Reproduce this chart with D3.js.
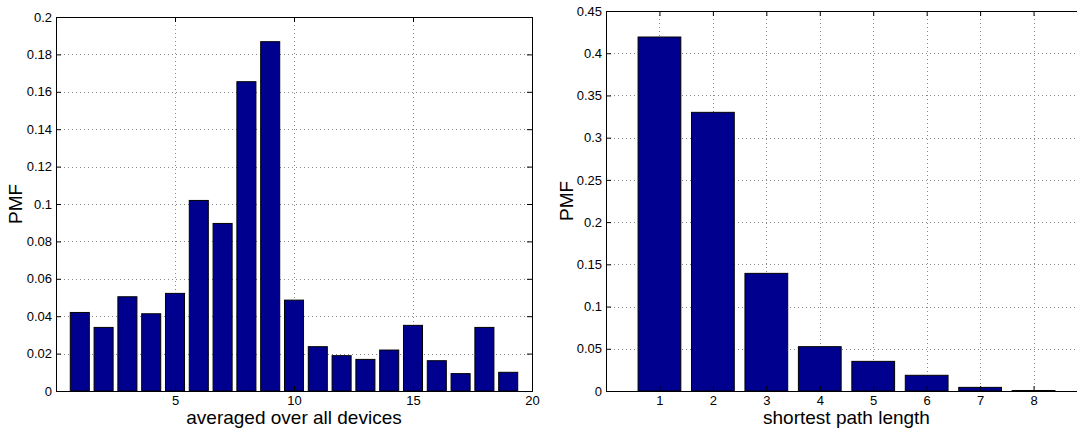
<!DOCTYPE html>
<html>
<head>
<meta charset="utf-8">
<script src="https://cdn.jsdelivr.net/npm/d3@7"></script>
<style>
  html, body { margin: 0; padding: 0; background: #fff; }
  svg { display: block; font-family: "Liberation Sans", Arial, sans-serif; }
</style>
</head>
<body>
<svg id="chart" width="1077" height="431"></svg>
<script>
// ---- Data ----
const leftCategories = [1,2,3,4,5,6,7,8,9,10,11,12,13,14,15,16,17,18,19];
const leftValues = [0.0420,0.0340,0.0504,0.0413,0.0522,0.1019,0.0896,0.1654,0.1868,0.0486,0.0237,0.0189,0.0169,0.0219,0.0351,0.0162,0.0093,0.0340,0.0100];
const leftXTicks = [5,10,15,20];
const leftYTicks = [0,0.02,0.04,0.06,0.08,0.1,0.12,0.14,0.16,0.18,0.2];
const leftXLabel = "averaged over all devices";

const rightCategories = [1,2,3,4,5,6,7,8];
const rightValues = [0.4192,0.3300,0.1393,0.0525,0.0351,0.0186,0.0043,0.0006];
const rightXTicks = [1,2,3,4,5,6,7,8];
const rightYTicks = [0,0.05,0.1,0.15,0.2,0.25,0.3,0.35,0.4,0.45];
const rightXLabel = "shortest path length";

const yLabel = "PMF";
const barColor = "#00008F";

const svg = d3.select("#chart");

function panel(cfg) {
  const x = d3.scaleLinear().domain(cfg.xDomain).range([cfg.left, cfg.right]);
  const y = d3.scaleLinear().domain(cfg.yDomain).range([cfg.bottom, cfg.top]);
  const g = svg.append("g");
  const tickLen = 5;
  const fmt = d => String(+d.toFixed(4));

  // grid
  g.append("g").selectAll("line.gx")
    .data(cfg.xTicks.filter(t => x(t) > cfg.left + 1 && x(t) < cfg.right - 1))
    .join("line")
    .attr("x1", d => Math.round(x(d)) + 0.5).attr("x2", d => Math.round(x(d)) + 0.5)
    .attr("y1", cfg.top).attr("y2", cfg.bottom)
    .attr("stroke", "#888").attr("stroke-width", 1).attr("stroke-dasharray", "1,3");
  g.append("g").selectAll("line.gy")
    .data(cfg.yTicks.filter(t => y(t) > cfg.top + 1 && y(t) < cfg.bottom - 1))
    .join("line")
    .attr("x1", cfg.left).attr("x2", cfg.right)
    .attr("y1", d => Math.round(y(d)) + 0.5).attr("y2", d => Math.round(y(d)) + 0.5)
    .attr("stroke", "#888").attr("stroke-width", 1).attr("stroke-dasharray", "1,3");

  // bars
  const bw = 0.8;
  g.append("g").selectAll("rect")
    .data(cfg.values.map((v, i) => ({c: cfg.categories[i], v})))
    .join("rect")
    .attr("x", d => x(d.c - bw / 2))
    .attr("width", d => x(d.c + bw / 2) - x(d.c - bw / 2))
    .attr("y", d => y(d.v))
    .attr("height", d => y(0) - y(d.v))
    .attr("fill", barColor)
    .attr("stroke", "#000").attr("stroke-width", 1);

  // axes (inward ticks) via d3 axes
  const axB = d3.axisBottom(x).tickValues(cfg.xTicks).tickSize(-tickLen).tickPadding(5).tickFormat(fmt);
  const axT = d3.axisTop(x).tickValues(cfg.xTicks).tickSize(-tickLen).tickFormat("");
  const axL = d3.axisLeft(y).tickValues(cfg.yTicks).tickSize(-tickLen).tickPadding(4).tickFormat(fmt);
  const axR = d3.axisRight(y).tickValues(cfg.yTicks).tickSize(-tickLen).tickFormat("");

  const style = sel => {
    sel.select(".domain").attr("stroke", "#000").attr("stroke-width", 1);
    sel.selectAll(".tick line").attr("stroke", "#000");
    sel.selectAll("text").attr("font-size", "13px").attr("fill", "#000")
      .attr("font-family", "'Liberation Sans', Arial, sans-serif");
  };
  g.append("g").attr("transform", `translate(0,${cfg.bottom})`).call(axB).call(style)
    .call(s => s.selectAll(".tick").filter(d => d === 0).remove());
  g.append("g").attr("transform", `translate(0,${cfg.top})`).call(axT).call(style);
  g.append("g").attr("transform", `translate(${cfg.left},0)`).call(axL).call(style);
  g.append("g").attr("transform", `translate(${cfg.right},0)`).call(axR).call(style);

  // labels
  g.append("text")
    .attr("x", (cfg.left + cfg.right) / 2).attr("y", cfg.xLabelY)
    .attr("text-anchor", "middle").attr("font-size", "19px").text(cfg.xLabel);
  g.append("text")
    .attr("transform", `translate(${cfg.yLabelX},${(cfg.top + cfg.bottom) / 2}) rotate(-90)`)
    .attr("text-anchor", "middle").attr("font-size", "19px").text(yLabel);
}

panel({
  left: 56, right: 532, top: 17, bottom: 391,
  xDomain: [0, 20], yDomain: [0, 0.2],
  categories: leftCategories, values: leftValues,
  xTicks: leftXTicks, yTicks: leftYTicks,
  xLabel: leftXLabel, xLabelY: 424, yLabelX: 22
});

panel({
  left: 606, right: 1087, top: 11, bottom: 391,
  xDomain: [0, 9], yDomain: [0, 0.45],
  categories: rightCategories, values: rightValues,
  xTicks: rightXTicks, yTicks: rightYTicks,
  xLabel: rightXLabel, xLabelY: 424, yLabelX: 573
});
</script>
</body>
</html>
